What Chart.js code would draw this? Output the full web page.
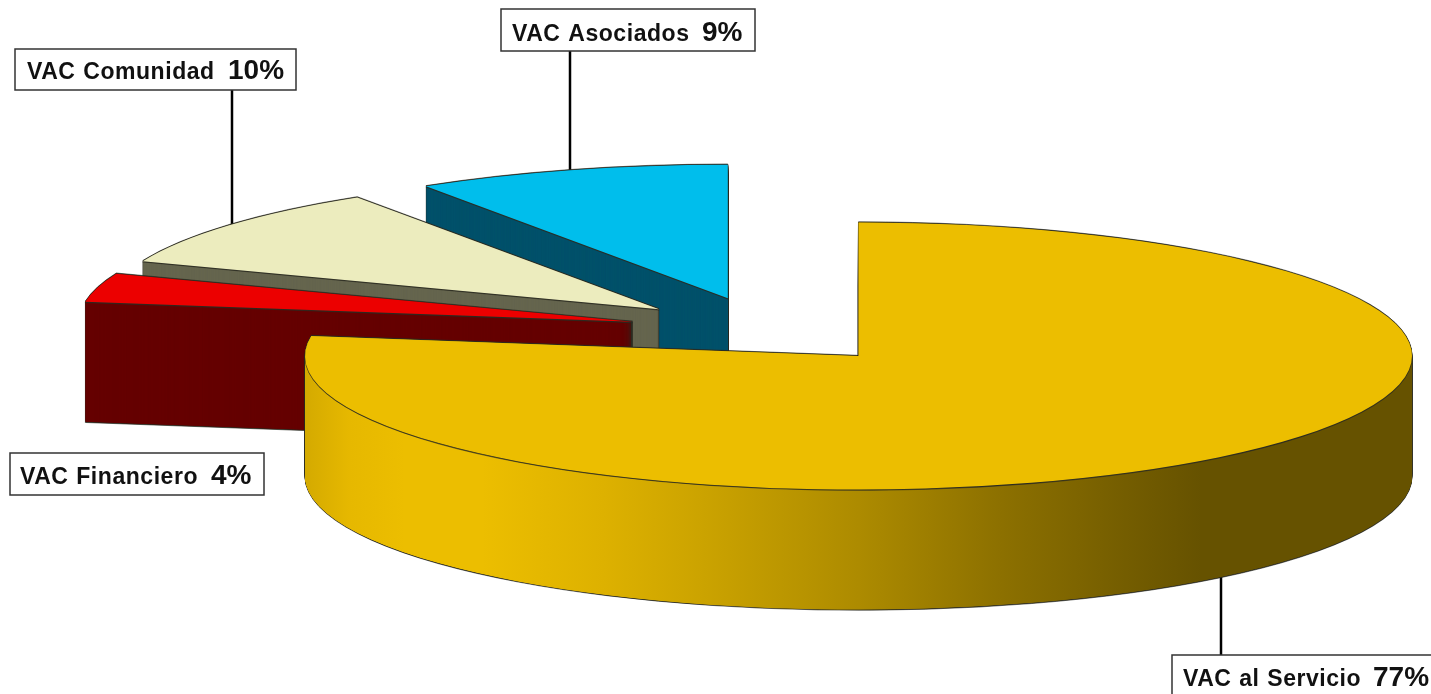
<!DOCTYPE html>
<html>
<head>
<meta charset="utf-8">
<title>VAC</title>
<script src="https://cdn.jsdelivr.net/npm/chart.js@4/dist/chart.umd.min.js"></script>
<style>
  html, body { margin: 0; padding: 0; background: #fff; overflow: hidden; }
  canvas { display: block; }
</style>
</head>
<body>
<canvas id="vacChart" width="1431" height="694"></canvas>
<script>
const categories = ["VAC al Servicio", "VAC Financiero", "VAC Comunidad", "VAC Asociados"];
const shares = [77.4, 3.47, 9.95, 9.18];
const percentLabels = ["77%", "4%", "10%", "9%"];

// Colores: cara superior y pared lateral de cada porcion
const topColors = ["#ECBE00", "#EC0000", "#ECECBE", "#00BEEC"];
const wallColors = [null, "#660000", "#66664F", "#00526B"];
const goldStops = [
    [0, "#D4AA00"], [0.04, "#E6B800"], [0.09, "#ECBE00"], [0.16, "#ECBE00"],
    [0.27, "#DDB100"], [0.36, "#CBA300"], [0.5, "#AD8B00"], [0.63, "#8C7000"],
    [0.765, "#6F5900"], [0.81, "#665200"], [1, "#665200"]
];

// Perspectiva y separacion de las porciones
const pieRadius = 553.5;
const explode = 139.6;
const squash = 0.2412;
const depth = 120;
const centerX = 767.5;
const centerY = 330.5;

// Cajas de etiquetas: [x, y, ancho, alto, xNombre, xPorcentaje, base]
const labelBoxes = [
    [1172, 655, 270, 50, 1183, 1373, 686],
    [10, 453, 254, 42, 20, 211, 484],
    [15, 49, 281, 41, 27, 228, 79],
    [501, 9, 254, 42, 512, 702, 41]
];
// Lineas guia: [x, y1, y2]
const leaders = [
    [1221, 655, 570],
    null,
    [232, 90, 240],
    [570, 51, 180]
];

function arcOptions(fill, line, width) {
    return {
        backgroundColor: fill, borderColor: line, borderWidth: width, borderAlign: "center",
        borderRadius: 0, offset: 0, spacing: 0, circular: true, borderDash: [], borderDashOffset: 0
    };
}

// Dibuja un arco del grafico con otro estilo, desplazado dy pixeles hacia abajo
function drawArcAt(ctx, arc, opts, dy) {
    const half = (arc.startAngle + arc.endAngle) / 2;
    const copy = Object.create(arc);
    copy.options = opts;
    ctx.save();
    ctx.translate(centerX, centerY + dy);
    ctx.scale(1, squash);
    ctx.translate(Math.cos(half) * explode - arc.x, Math.sin(half) * explode - arc.y);
    copy.draw(ctx);
    ctx.restore();
}

const pie3d = {
    id: "pie3d",
    beforeDatasetDraw(chart) {
        const ctx = chart.ctx;
        const arcs = chart.getDatasetMeta(0).data;

        // Lineas guia por debajo del pastel
        ctx.save();
        ctx.strokeStyle = "#000";
        ctx.lineWidth = 2.5;
        leaders.forEach(l => {
            if (!l) return;
            ctx.beginPath();
            ctx.moveTo(l[0], l[1]);
            ctx.lineTo(l[0], l[2]);
            ctx.stroke();
        });
        ctx.restore();

        // De atras hacia adelante
        for (let i = arcs.length - 1; i >= 0; i--) {
            const arc = arcs[i];
            let wall = wallColors[i];
            if (!wall) {
                wall = ctx.createLinearGradient(arc.x - pieRadius, 0, arc.x + pieRadius, 0);
                goldStops.forEach(s => wall.addColorStop(s[0], s[1]));
            }
            const edge = arcOptions("#2b2b20", "#2b2b20", 1);
            const side = arcOptions(wall, wall, 0);
            drawArcAt(ctx, arc, edge, -0.7);
            drawArcAt(ctx, arc, edge, depth + 0.7);
            for (let d = depth; d >= 0; d -= 0.5) drawArcAt(ctx, arc, edge, d);
            // pasos cortos: cerca de la punta la porcion mide menos de un pixel de alto
            for (let d = depth; d >= 0.25; d -= 0.25) drawArcAt(ctx, arc, side, d);
            drawArcAt(ctx, arc, edge, 0.8);
            drawArcAt(ctx, arc, arcOptions(topColors[i], topColors[i], 0), 0);
        }
        return false;
    },
    afterDraw(chart) {
        const ctx = chart.ctx;
        ctx.save();
        ctx.textBaseline = "alphabetic";
        labelBoxes.forEach((b, i) => {
            ctx.fillStyle = "#fff";
            ctx.strokeStyle = "#333";
            ctx.lineWidth = 1.5;
            ctx.fillRect(b[0], b[1], b[2], b[3]);
            ctx.strokeRect(b[0], b[1], b[2], b[3]);
            ctx.fillStyle = "#111";
            ctx.font = "bold 23px 'Liberation Sans'";
            ctx.letterSpacing = "0.55px";
            ctx.wordSpacing = "0.8px";
            ctx.fillText(categories[i], b[4], b[6]);
            ctx.font = "bold 28px 'Liberation Sans'";
            ctx.letterSpacing = "0px";
            ctx.wordSpacing = "0px";
            ctx.fillText(percentLabels[i], b[5], b[6]);
        });
        ctx.restore();
    }
};

new Chart(document.getElementById("vacChart"), {
    type: "pie",
    data: {
        labels: categories,
        datasets: [{
            data: shares,
            backgroundColor: topColors,
            borderWidth: 0,
            radius: pieRadius
        }]
    },
    options: {
        responsive: false,
        animation: false,
        plugins: {
            legend: { display: false },
            tooltip: { enabled: false }
        }
    },
    plugins: [pie3d]
});
</script>
</body>
</html>
